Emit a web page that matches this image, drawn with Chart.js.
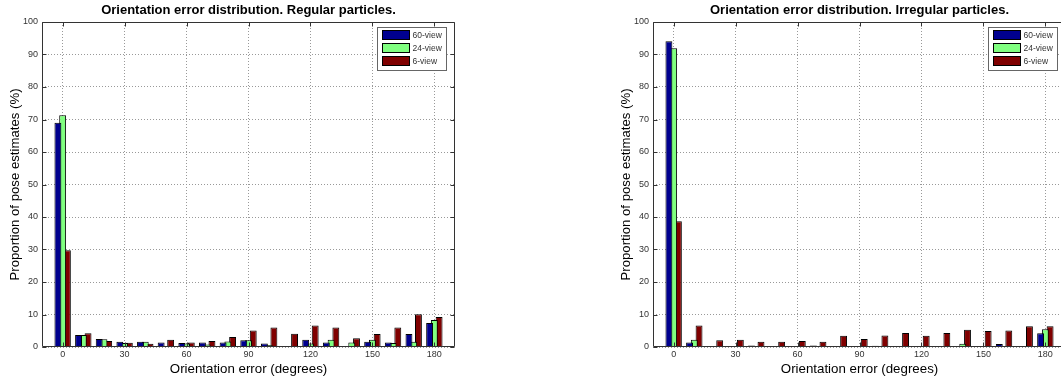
<!DOCTYPE html>
<html><head><meta charset="utf-8">
<script src="https://cdn.jsdelivr.net/npm/chart.js@4.4.1/dist/chart.umd.min.js"></script>
<style>
html,body{margin:0;padding:0;background:#fff;width:1061px;height:380px;overflow:hidden;position:relative}
.c{position:absolute;top:0;height:380px}
#w1{left:0;width:459px}
#w2{left:611px;width:459px}
</style></head><body>
<div class="c" id="w1"><canvas id="c1"></canvas></div>
<div class="c" id="w2"><canvas id="c2"></canvas></div>
<script>
// ---- data ----
const bins = [0,10,20,30,40,50,60,70,80,90,100,110,120,130,140,150,160,170,180];
const xTickValues = [0,30,60,90,120,150,180];
const seriesNames = ['60-view','24-view','6-view'];
const seriesColors = ['#00008F','#80FF80','#800000'];
const titles = ['Orientation error distribution. Regular particles.','Orientation error distribution. Irregular particles.'];
const xAxisTitle = 'Orientation error (degrees)';
const yAxisTitle = 'Proportion of pose estimates (%)';

const regular60 = [69.0,3.7,2.5,1.6,1.6,1.4,1.2,1.4,1.4,2.05,1.1,0.3,2.25,1.4,0,1.6,1.4,4.0,7.4];
const regular24 = [71.3,3.7,2.4,1.2,1.6,0,1.1,0.8,1.7,2.1,0.6,0.1,1.1,2.2,1.4,2.25,1.2,1.6,8.3];
const regular6  = [29.8,4.2,1.85,1.3,1.0,2.25,1.4,1.85,3.1,5.1,6.0,4.1,6.6,6.0,2.7,4.0,6.0,10.1,9.2];

const irregular60 = [94.1,1.4,0.3,0.1,0.5,0,0.1,0.5,0,0,0.4,0,0.1,0,0,0.1,0.9,0.3,4.2];
const irregular24 = [91.9,2.25,0,0,0,0,0,0,0,0,0,0,0,0,1.0,0,0.2,0,5.5];
const irregular6  = [38.7,6.6,2.05,2.25,1.6,1.6,1.85,1.6,3.5,2.5,3.55,4.3,3.5,4.3,5.3,4.9,5.1,6.4,6.4];

// ---- plugins ----
const frameTicks = {
  id: 'frameTicks',
  afterDraw(chart) {
    const {ctx, chartArea: a, scales} = chart;
    ctx.save();
    ctx.strokeStyle = '#333';
    ctx.lineWidth = 1;
    const L = Math.round(a.left) + 0.5, R = Math.round(a.right) - 0.5;
    const T = Math.round(a.top) + 0.5, B = Math.round(a.bottom) - 0.5;
    ctx.beginPath();
    ctx.rect(L, T, R - L, B - T);
    const tl = 4;
    scales.x.ticks.forEach(t => {
      const x = Math.round(scales.x.getPixelForValue(t.value)) + 0.5;
      ctx.moveTo(x, B); ctx.lineTo(x, B - tl);
      ctx.moveTo(x, T); ctx.lineTo(x, T + tl);
    });
    scales.y.ticks.forEach(t => {
      const y = Math.round(scales.y.getPixelForValue(t.value)) + 0.5;
      ctx.moveTo(L, y); ctx.lineTo(L + tl, y);
      ctx.moveTo(R, y); ctx.lineTo(R - tl, y);
    });
    ctx.stroke();
    ctx.restore();
  }
};
const innerLegend = {
  id: 'innerLegend',
  afterDraw(chart) {
    const {ctx, chartArea: a} = chart;
    const ds = chart.data.datasets;
    const w = 69, rowH = 13, h = 4 + rowH * ds.length;
    const x0 = Math.round(a.right) - 9 - w + 0.5, y0 = Math.round(a.top) + 5.5;
    ctx.save();
    ctx.fillStyle = '#fff';
    ctx.fillRect(x0, y0, w, h);
    ctx.strokeStyle = '#666';
    ctx.lineWidth = 1;
    ctx.strokeRect(x0, y0, w, h);
    ctx.font = '8.5px "Liberation Sans", Arial, sans-serif';
    ctx.textBaseline = 'middle';
    ds.forEach((d, i) => {
      const sy = y0 + 3 + i * rowH;
      ctx.fillStyle = d.backgroundColor;
      ctx.fillRect(x0 + 5, sy, 27, 9);
      ctx.strokeStyle = '#000';
      ctx.strokeRect(x0 + 5, sy, 27, 9);
      ctx.fillStyle = '#333';
      ctx.fillText(d.label, x0 + 35, sy + 5);
    });
    ctx.restore();
  }
};

function makeChart(id, title, values) {
  const datasets = values.map((vals, s) => ({
    label: seriesNames[s],
    data: bins.map((b, i) => ({x: b, y: vals[i]})),
    backgroundColor: seriesColors[s],
    borderColor: '#000',
    borderWidth: 1,
    categoryPercentage: 0.69,
    barPercentage: 1.45
  }));
  return new Chart(document.getElementById(id), {
    type: 'bar',
    data: {datasets},
    plugins: [frameTicks, innerLegend],
    options: {
      responsive: true,
      maintainAspectRatio: false,
      animation: false,
      layout: {padding: {left: 0, right: 4, top: 0, bottom: 0}},
      plugins: {
        legend: {display: false},
        tooltip: {enabled: false},
        title: {
          display: true, text: title, fullSize: false, color: '#000',
          font: {family: '"Liberation Sans", Arial, sans-serif', size: 13, weight: 'bold', lineHeight: 1.2},
          padding: {top: 3, bottom: 3.4}
        }
      },
      scales: {
        x: {
          type: 'linear', min: -10, max: 190, offset: false,
          afterBuildTicks: s => { s.ticks = xTickValues.map(v => ({value: v})); },
          afterFit: s => { s.height = 33; },
          grid: {color: '#999', lineWidth: 1, drawTicks: false, offset: false},
          border: {display: false, dash: [1, 2]},
          ticks: {color: '#333', padding: 2, maxRotation: 0, autoSkip: false,
                  font: {family: '"Liberation Sans", Arial, sans-serif', size: 9}},
          title: {display: true, text: xAxisTitle, color: '#000',
                  font: {family: '"Liberation Sans", Arial, sans-serif', size: 13.3, lineHeight: 1.2},
                  padding: {top: 0, bottom: 3}}
        },
        y: {
          min: 0, max: 100,
          afterFit: s => { s.width = 42; },
          grid: {color: '#999', lineWidth: 1, drawTicks: false},
          border: {display: false, dash: [1, 2]},
          ticks: {stepSize: 10, color: '#333', padding: 4,
                  font: {family: '"Liberation Sans", Arial, sans-serif', size: 9}},
          title: {display: true, text: yAxisTitle, color: '#000',
                  font: {family: '"Liberation Sans", Arial, sans-serif', size: 13.2, lineHeight: 1.2},
                  padding: {top: 7.5, bottom: 0}}
        }
      }
    }
  });
}

makeChart('c1', titles[0], [regular60, regular24, regular6]);
makeChart('c2', titles[1], [irregular60, irregular24, irregular6]);
</script>
</body></html>
